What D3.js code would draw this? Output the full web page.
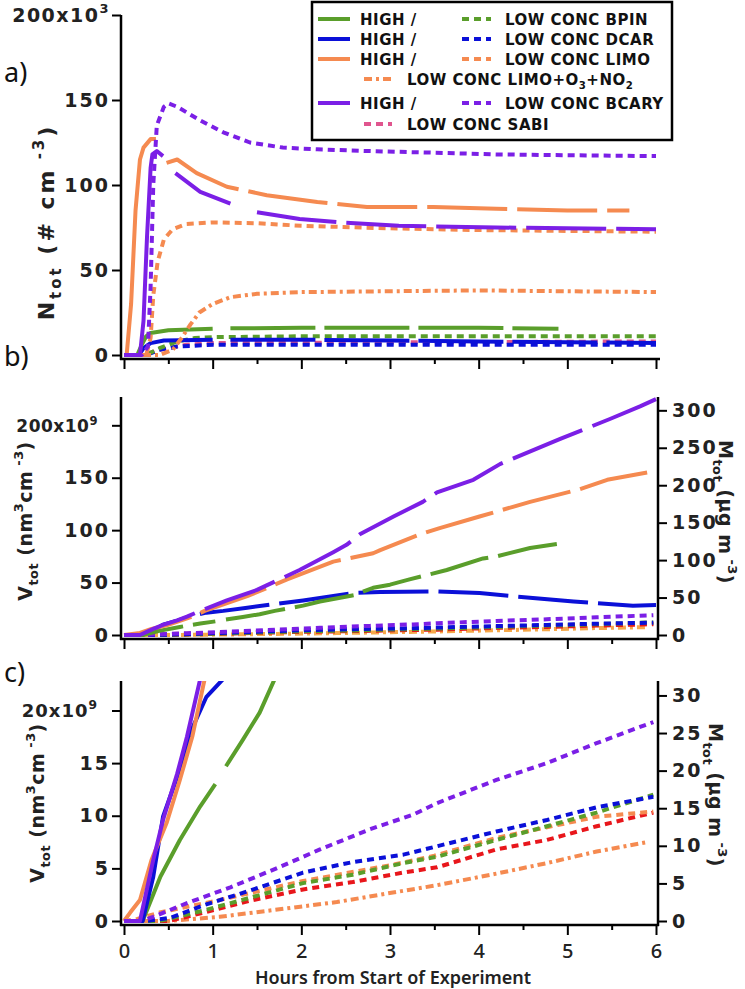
<!DOCTYPE html>
<html><head><meta charset="utf-8">
<script src="https://cdn.jsdelivr.net/npm/d3@7"></script>
<style>body{margin:0;background:#fff}</style>
</head><body>
<svg id="chart" width="745" height="989"></svg>
<script>
// ---------- DATA ----------
// hours from start, N_tot (x10^3 # cm^-3)  -- panel a   (null = gap in the record)
const aHighBpin  = [[0,0],[0.15,0],[0.2,6],[0.25,11],[0.3,13],[0.5,14.5],[1,15.5],[1.1,null],[1.2,15.7],[2,16],[3,16],[4,16],[4.9,15.5]];
const aHighDcar  = [[0,0],[0.17,0],[0.22,4],[0.3,7],[0.45,8.5],[1,9],[1.1,null],[1.2,9],[2,9],[3,8.5],[4,8],[5,7.5],[6,7]];
const aHighLimo  = [[0,0],[0.03,0],[0.08,30],[0.13,85],[0.18,115],[0.22,122],[0.3,127],[0.36,127],[0.42,null],[0.48,113],[0.6,115],[0.82,107],[1.16,99],[1.61,94],[2.18,90],[2.74,87],[3.49,87],[4.2,86],[5,85],[5.7,85]];
const aHighBcary = [[0,0],[0.18,0],[0.22,20],[0.26,70],[0.3,110],[0.32,118],[0.37,120],[0.44,117],[0.5,null],[0.58,107],[0.86,96],[1.2,89],[1.35,null],[1.5,84],[1.98,80],[2.44,78],[3.1,76],[4.2,75],[6,74]];
const aLowBpin   = [[0,0],[0.25,0],[0.4,4],[0.6,8],[0.8,10],[1,10.5],[2,11],[6,11]];
const aLowDcar   = [[0,0],[0.25,0],[0.4,3],[0.6,5],[1,6],[6,6]];
const aLowLimo   = [[0,0],[0.25,0],[0.3,10],[0.33,35],[0.38,55],[0.45,68],[0.55,74],[0.7,77],[1,78],[1.5,77.5],[2,76],[3,74.5],[4,73.5],[5,73],[6,72.5]];
const aLimoO3    = [[0,0],[0.4,0],[0.55,3],[0.65,10],[0.75,18],[0.85,25],[1,30],[1.2,34],[1.5,36],[2,37],[3,37.5],[4,38],[5,37.5],[6,37]];
const aLowBcary  = [[0,0],[0.2,0],[0.27,5],[0.3,40],[0.33,100],[0.37,135],[0.45,146],[0.5,148],[0.6,146],[0.86,138],[1.12,131],[1.42,125],[1.79,122],[2.18,121],[2.74,120],[3.5,119],[4.2,118],[5,117.5],[6,117]];
const aLowSabi   = [[0,0],[0.2,0],[0.4,3],[0.7,6],[1,7],[6,8]];

// hours from start, V_tot (x10^9 nm^3 cm^-3) -- panels b and c
const vHighBpin  = [[0,0],[0.21,0],[0.41,4.2],[0.63,7.7],[0.86,10.9],[1.03,13],[1.09,null],[1.15,14.7],[1.34,17.2],[1.53,19.8],[1.7,23],[2.02,28],[2.21,32],[2.59,38],[2.81,45],[3.0,48],[3.22,53],[3.64,62],[4.05,73],[4.2,75],[4.58,83],[4.94,87.5]];
const vHighDcar  = [[0,0],[0.21,0],[0.33,4.2],[0.44,9.9],[0.6,13.7],[0.78,18.5],[0.93,21.3],[1.12,23],[1.39,26],[2.02,33],[2.59,40],[2.89,41],[3.53,41.5],[4.01,40],[4.39,37],[5.07,32],[5.74,28],[6,28.5]];
const vHighLimo  = [[0,0],[0.07,0.8],[0.18,2],[0.31,5.8],[0.48,9.3],[0.63,13.4],[0.77,17.5],[0.91,23],[1.39,37],[1.84,53],[2.36,70],[2.81,78],[2.89,81],[3.34,96],[3.56,102],[4.01,113],[4.58,127],[5.14,139],[5.45,148],[5.9,155]];
const vHighBcary = [[0,0],[0.18,0],[0.33,5.8],[0.44,9.6],[0.6,14],[0.71,17.5],[0.86,23],[1.16,33],[1.5,43],[1.98,62],[2.36,79],[2.51,86],[2.66,96],[3.04,113],[3.37,127],[3.53,136],[3.94,148],[4.24,163],[4.92,187],[5.48,206],[5.82,218],[6,225]];
const vLowBpin   = [[0,0],[0.4,0],[0.9,1],[1.46,2.3],[2.02,3.6],[2.58,4.4],[3.15,5.5],[3.53,6.1],[4.2,7.7],[4.77,9],[5.33,10.3],[5.97,12]];
const vLowDcar   = [[0,0],[0.25,0],[0.52,0.3],[0.9,1.5],[1.46,3],[2.02,4.6],[2.58,5.6],[3.15,6.3],[3.53,7.1],[4.2,8.5],[4.77,9.6],[5.33,10.8],[5.97,11.8]];
const vLowLimo   = [[0,0],[0.15,0.2],[0.4,0.8],[1.08,2],[2.02,3.8],[3,5.3],[3.5,6.2],[4.2,7.9],[4.77,8.9],[5.33,9.9],[5.97,10.4]];
const vLimoO3    = [[0,0],[0.5,0],[1.08,0.4],[1.84,1.2],[2.4,1.8],[2.96,2.6],[3.53,3.4],[4.2,4.5],[4.77,5.5],[5.33,6.6],[5.9,7.5]];
const vLowBcary  = [[0,0],[0.2,0],[0.33,0.4],[0.71,1.7],[1.2,3.2],[1.72,5],[2.21,6.8],[2.77,8.7],[3.26,10.1],[3.53,11.2],[4.2,13.4],[4.77,15],[5.33,16.9],[5.97,18.9]];
const vLowSabi   = [[0,0],[0.5,0],[0.71,0.4],[1.46,2],[2.02,3],[2.58,3.7],[3.15,4.6],[3.53,5.1],[4.2,6.8],[4.77,7.7],[5.33,9],[5.97,10.3]];

// tick values
const hourTicks = [0,0.5,1,1.5,2,2.5,3,3.5,4,4.5,5,5.5,6];
const nTicks  = [0,50,100,150,200];
const vTicksB = [0,50,100,150,200];
const mTicksB = [0,50,100,150,200,250,300];
const vTicksC = [0,5,10,15,20];
const mTicksC = [0,5,10,15,20,25,30];
const density = 1.4; // M = V * 1.4

// ---------- STYLES ----------
const col = {bpin:"#5a9e2b", dcar:"#0b10d8", limo:"#f58a50", bcary:"#7b1fe6", sabi:"#e0558e", sabiRed:"#e8161b"};
const LOWDASH = "7,5", DASHDOT = "8,4,3,4";
const tickFont = "'DejaVu Sans', sans-serif";

const svg = d3.select("#chart");
const x = d3.scaleLinear([0,6],[124,656]);

const ya = d3.scaleLinear([0,200],[355,15]);
const yb = d3.scaleLinear([0,227],[635,397]);
const mb = d3.scaleLinear([0,227*density],[635,397]);
const yc = d3.scaleLinear([0,22.8],[921,681]);
const mc = d3.scaleLinear([0,22.8*density],[921,681]);

const AXL = 121, AXR = 658;

function rich(t, parts, base){
  let cur = 0;
  parts.forEach(([s,m])=>{
    const off = m===1 ? base*0.3 : m===2 ? -base*0.45 : 0;
    t.append("tspan").text(s).attr("dy", off-cur).style("font-size", (m ? base*0.68 : base)+"px");
    cur = off;
  });
  return t;
}

const defs = svg.append("defs");
function clip(id, y0, y1){
  defs.append("clipPath").attr("id",id).append("rect").attr("x",AXL).attr("y",y0).attr("width",AXR-AXL).attr("height",y1-y0);
}
clip("ca", 0, 358); clip("cb", 397, 638); clip("cc", 681, 924);

function drawLine(g, data, yS, color, dash, w){
  const line = d3.line().defined(d=>d[1]!=null).x(d=>x(d[0])).y(d=>yS(d[1]));
  g.append("path").datum(data).attr("d",line).attr("fill","none")
    .attr("stroke",color).attr("stroke-width",w).attr("stroke-dasharray",dash)
    .attr("stroke-linejoin","round");
}
// high-concentration trace: first record piece solid, later pieces with the recording gaps
function drawHigh(g, data, yS, color, dash){
  const i = data.findIndex(d=>d[1]==null);
  if(i<0){ drawLine(g, data, yS, color, dash, 4); return; }
  drawLine(g, data.slice(0,i), yS, color, null, 4);
  drawLine(g, data.slice(i+1), yS, color, dash, 4);
}

function styleTickText(sel){
  sel.style("font-family",tickFont).style("font-weight","bold")
    .style("font-size","19px").style("letter-spacing","2px").attr("fill","#222");
}
function leftAxis(yS, ticks, topLabel, topSup, topRightX, topSize, topLs){
  const g = svg.append("g").attr("transform",`translate(${AXL},0)`)
    .call(d3.axisLeft(yS).tickValues(ticks).tickSize(9).tickPadding(2)
      .tickFormat(d => d===ticks[ticks.length-1] ? "" : d));
  g.select(".domain").remove();
  g.selectAll("line").attr("stroke","#000").attr("stroke-width",2);
  styleTickText(g.selectAll("text"));
  const t = svg.append("text").attr("x",topRightX).attr("y",yS(ticks[ticks.length-1])+7)
    .attr("text-anchor","end").style("font-family",tickFont).style("font-weight","bold")
    .style("letter-spacing",topLs+"px").attr("fill","#222");
  rich(t, [[topLabel,0],[topSup,2]], topSize);
}
function rightAxis(yS, ticks){
  const g = svg.append("g").attr("transform",`translate(${AXR},0)`)
    .call(d3.axisRight(yS).tickValues(ticks).tickSize(9).tickPadding(5));
  g.select(".domain").remove();
  g.selectAll("line").attr("stroke","#000").attr("stroke-width",2);
  styleTickText(g.selectAll("text"));
}
function bottomAxis(yPos, labels){
  const g = svg.append("g").attr("transform",`translate(0,${yPos})`)
    .call(d3.axisBottom(x).tickValues(hourTicks).tickSize(10).tickPadding(9)
      .tickFormat(d => labels && Number.isInteger(d) ? d : ""));
  g.select(".domain").remove();
  g.selectAll(".tick line").attr("stroke","#000").attr("stroke-width",2)
    .attr("y2", d => Number.isInteger(d) ? 10 : 5);
  g.selectAll("text").style("font-family","'Noto Sans', sans-serif").style("font-weight","500")
    .style("font-size","20px").attr("fill","#222");
}
function frameLines(top, bottom, right){
  svg.append("line").attr("x1",AXL).attr("x2",AXL).attr("y1",top).attr("y2",bottom+1).attr("stroke","#000").attr("stroke-width",2.5);
  svg.append("line").attr("x1",AXL-1).attr("x2",right ? AXR+1 : AXR+2).attr("y1",bottom).attr("y2",bottom).attr("stroke","#000").attr("stroke-width",2.5);
  if(right) svg.append("line").attr("x1",AXR).attr("x2",AXR).attr("y1",top).attr("y2",bottom+1).attr("stroke","#000").attr("stroke-width",2.5);
}

// ---------- PANEL A ----------
const ga = svg.append("g").attr("clip-path","url(#ca)");
drawLine(ga, aLowSabi, ya, col.sabi, LOWDASH, 4);
drawLine(ga, aLowDcar, ya, col.dcar, LOWDASH, 4);
drawLine(ga, aLowBpin, ya, col.bpin, LOWDASH, 4);
drawHigh(ga, aHighDcar, ya, col.dcar, "85,9");
drawHigh(ga, aHighBpin, ya, col.bpin, "85,9");
drawLine(ga, aLimoO3, ya, col.limo, DASHDOT, 4);
drawLine(ga, aLowLimo, ya, col.limo, LOWDASH, 4);
drawHigh(ga, aHighLimo, ya, col.limo, "80,10");
drawHigh(ga, aHighBcary, ya, col.bcary, "80,10");
drawLine(ga, aLowBcary, ya, col.bcary, LOWDASH, 4);
frameLines(15, 359, false);
leftAxis(ya, nTicks, "200x10", "3", 110, 19, 1.5);
bottomAxis(359, false);

// ---------- PANEL B ----------
const gb = svg.append("g").attr("clip-path","url(#cb)");
drawLine(gb, vLimoO3, yb, "#f5a94a", DASHDOT, 4);
drawLine(gb, vLowLimo, yb, col.limo, LOWDASH, 4);
drawLine(gb, vLowSabi, yb, col.sabiRed, LOWDASH, 4);
drawLine(gb, vLowBpin, yb, col.bpin, LOWDASH, 4);
drawLine(gb, vLowDcar, yb, col.dcar, LOWDASH, 4);
drawLine(gb, vLowBcary, yb, col.bcary, LOWDASH, 4);
drawLine(gb, vHighDcar, yb, col.dcar, "70,10", 4);
drawLine(gb, vHighBpin, yb, col.bpin, "60,10", 4);
drawLine(gb, vHighLimo, yb, col.limo, "70,10", 4);
drawLine(gb, vHighBcary, yb, col.bcary, "75,11", 4);
frameLines(397, 639, true);
leftAxis(yb, vTicksB, "200x10", "9", 98, 17, 0.5);
rightAxis(mb, mTicksB);
bottomAxis(639, false);

// ---------- PANEL C ----------
const gc = svg.append("g").attr("clip-path","url(#cc)");
drawLine(gc, vLimoO3, yc, col.limo, DASHDOT, 4);
drawLine(gc, vLowSabi, yc, col.sabiRed, LOWDASH, 4);
drawLine(gc, vLowLimo, yc, col.limo, LOWDASH, 4);
drawLine(gc, vLowBpin, yc, col.bpin, LOWDASH, 4);
drawLine(gc, vLowDcar, yc, col.dcar, LOWDASH, 4);
drawLine(gc, vLowBcary, yc, col.bcary, LOWDASH, 4);
drawLine(gc, vHighBpin, yc, col.bpin, null, 4);
drawLine(gc, vHighDcar, yc, col.dcar, null, 4);
drawLine(gc, vHighLimo, yc, col.limo, null, 4);
drawLine(gc, vHighBcary, yc, col.bcary, null, 4);
frameLines(681, 925, true);
leftAxis(yc, vTicksC, "20x10", "9", 98, 18, 1);
rightAxis(mc, mTicksC);
bottomAxis(925, true);

// ---------- TITLES ----------
function yTitle(cx, cy, rot, parts, size, ls){
  const t = svg.append("text").attr("transform",`translate(${cx},${cy}) rotate(${rot})`)
    .attr("text-anchor","middle").style("font-family",tickFont).style("font-weight","bold")
    .style("letter-spacing",ls+"px").attr("fill","#222");
  rich(t, parts, size);
}
yTitle(54, 222, -90, [["N",0],["tot",1],[" (# cm",0],[" -3",2],[")",0]], 22, 3);
yTitle(32, 521, -90, [["V",0],["tot",1],[" (nm",0],["3",2],["cm",0],[" -3",2],[")",0]], 19, 0.5);
yTitle(44, 803, -90, [["V",0],["tot",1],[" (nm",0],["3",2],["cm",0],[" -3",2],[")",0]], 19, 0.5);
yTitle(719, 512, 90, [["M",0],["tot",1],[" (\u00b5g m",0],[" -3",2],[")",0]], 19, 0.5);
yTitle(709, 795, 90, [["M",0],["tot",1],[" (\u00b5g m",0],[" -3",2],[")",0]], 19, 0.5);

svg.append("text").attr("x",393).attr("y",984).attr("text-anchor","middle")
  .style("font-family","'Noto Sans', sans-serif").style("font-weight","600").style("font-size","18px")
  .attr("fill","#222").text("Hours from Start of Experiment");

[["a)",82],["b)",366],["c)",682]].forEach(([s,yy])=>{
  svg.append("text").attr("x",4).attr("y",yy).style("font-family","'Noto Sans', sans-serif")
    .style("font-size","27px").attr("fill","#111").text(s);
});

// ---------- LEGEND ----------
const legendRows = [19,39,59,79,103,124];
const legendItems = [
  {label:"HIGH /", key:"bpin", kind:"high", c:0, r:0},
  {label:"LOW CONC BPIN", key:"bpin", kind:"low", c:1, r:0},
  {label:"HIGH /", key:"dcar", kind:"high", c:0, r:1},
  {label:"LOW CONC DCAR", key:"dcar", kind:"low", c:1, r:1},
  {label:"HIGH /", key:"limo", kind:"high", c:0, r:2},
  {label:"LOW CONC LIMO", key:"limo", kind:"low", c:1, r:2},
  {label:"LOW CONC LIMO+O3+NO2", key:"limo", kind:"dashdot", c:2, r:3},
  {label:"HIGH /", key:"bcary", kind:"high", c:0, r:4},
  {label:"LOW CONC BCARY", key:"bcary", kind:"low", c:1, r:4},
  {label:"LOW CONC SABI", key:"sabi", kind:"low", c:2, r:5}
];
const legCols = [{x1:318,x2:350,tx:360},{x1:462,x2:491,tx:505},{x1:364,x2:392,tx:407}];
const lg = svg.append("g");
lg.append("rect").attr("x",312).attr("y",2).attr("width",360).attr("height",138)
  .attr("fill","#fff").attr("stroke","#000").attr("stroke-width",2.5);
legendItems.forEach(it=>{
  const c = legCols[it.c], yy = legendRows[it.r];
  lg.append("line").attr("x1",c.x1).attr("x2",c.x2).attr("y1",yy).attr("y2",yy)
    .attr("stroke",col[it.key]).attr("stroke-width",4)
    .attr("stroke-dasharray", it.kind==="low" ? LOWDASH : it.kind==="dashdot" ? DASHDOT : null);
  const t = lg.append("text").attr("x",c.tx).attr("y",yy+5.5).style("font-family",tickFont)
    .style("font-weight","bold").style("letter-spacing","0.5px").attr("fill","#111");
  if(it.label.includes("O3")){
    rich(t, [["LOW CONC LIMO+O",0],["3",1],["+NO",0],["2",1]], 15);
  } else {
    t.style("font-size","15px").text(it.label);
  }
});
</script></body></html>
